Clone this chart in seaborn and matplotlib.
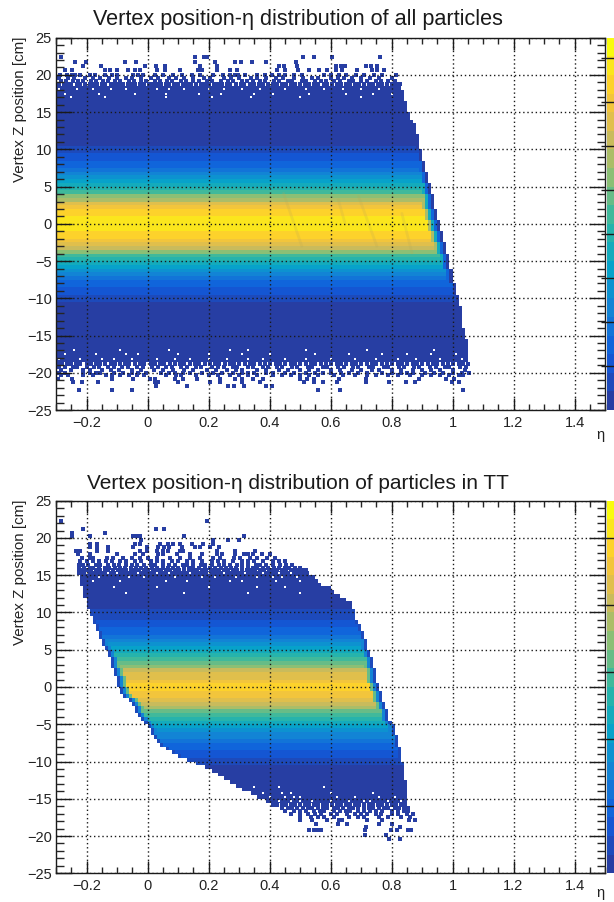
import numpy as np
import matplotlib
matplotlib.use('Agg')
import matplotlib.pyplot as plt
from matplotlib.colors import ListedColormap
from matplotlib.ticker import MultipleLocator
import seaborn as sns

# %% datos

# filas de 0.5 cm, de z = 18.25 a z = -18.25
niveles_all = [0]*16 + [1,1,2,2,3,3,4,5,6,7,8,9,10,12,13,15,16,17,17,18,18,
                        18,18,17,17,16,15,14,12,10,9,8,7,6,5,4,3,3,2,2,1,1] + [0]*16
borde_der_all = [.835,.838,.84,.843,.847,.85,.853,.858,.864,.87,.876,.88,.882,.885,.888,.891,
                 .894,.897,.9,.902,.905,.908,.911,.915,.92,.923,.925,.928,.931,.935,.939,.941,
                 .944,.947,.949,.952,.955,.958,.963,.967,.97,.974,.977,.98,.982,.985,.988,.991,
                 .994,.996,.998,1.001,1.004,1.007,1.01,1.013,1.016,1.019,1.023,1.026,1.028,1.03,
                 1.031,1.033,1.035,1.037,1.04,1.042,1.045,1.047,1.049,1.05,1.05,1.05]

# filas de 0.5 cm, de z = 15.25 a z = -15.25
niveles_tt = [0,0,0,0,0,0,0,0,0,0,1,1,1,2,2,3,3,4,5,6,7,8,9,10,11,12,14,15,15,16,17,
              17,16,16,15,14,13,11,10,9,8,7,6,5,5,4,3,3,2,2,1,1,0,0,0,0,0,0,0,0,0,0]
borde_izq_tt = [-.225,-.222,-.218,-.215,-.212,-.208,-.205,-.202,-.198,-.195,-.191,-.186,-.181,
                -.175,-.17,-.165,-.16,-.155,-.15,-.145,-.14,-.134,-.129,-.124,-.12,-.115,-.11,
                -.107,-.103,-.1,-.097,-.094,-.09,-.075,-.06,-.052,-.044,-.036,-.028,-.018,-.008,
                0,.007,.015,.025,.033,.045,.06,.085,.105,.135,.165,.19,.21,.23,.25,.27,.29,.315,.34,.365,.39]
borde_der_tt = [.53,.545,.56,.575,.597,.615,.633,.652,.668,.672,.675,.678,.684,.69,.696,.703,.708,
                .712,.716,.72,.724,.728,.731,.735,.739,.742,.746,.749,.752,.754,.757,.76,.765,.768,
                .772,.778,.783,.787,.79,.794,.8,.805,.809,.812,.816,.82,.824,.827,.83,.832,.835,.837,
                .839,.841,.843,.845,.846,.847,.848,.849,.85,.85]

# puntos sueltos por encima y por debajo de la banda llena
sueltos_all_z = [18.8,19.2,19.6,20.0,20.6,21.2,21.7,22.4,
                 -18.8,-19.2,-19.6,-20.0,-20.3,-20.8,-21.3,-21.8,-22.3]
sueltos_all_eta = [
 [-.29,-.275,-.262,-.25,-.232,-.22,-.205,-.19,-.178,-.165,-.15,-.138,-.12,-.108,-.095,-.08,-.065,-.052,-.04,-.025,-.012,.005,.018,.03,.045,.06,.072,.088,.1,.115,.13,.142,.16,.175,.188,.2,.218,.23,.245,.26,.272,.29,.305,.318,.335,.35,.365,.378,.395,.41,.425,.44,.455,.47,.482,.5,.515,.53,.545,.56,.578,.59,.605,.62,.635,.65,.665,.68,.695,.71,.725,.74,.755,.77,.785,.8,.815,.828],
 [-.285,-.268,-.245,-.228,-.21,-.185,-.17,-.145,-.13,-.105,-.09,-.06,-.045,-.02,-.005,.025,.04,.065,.08,.11,.125,.15,.17,.195,.212,.24,.265,.28,.31,.325,.345,.37,.385,.415,.43,.46,.475,.505,.52,.55,.57,.585,.61,.63,.66,.675,.7,.72,.75,.765,.79,.81],
 [-.29,-.26,-.24,-.205,-.18,-.155,-.125,-.1,-.07,-.05,-.02,.01,.035,.07,.095,.12,.15,.185,.205,.25,.275,.3,.34,.36,.39,.42,.445,.48,.51,.54,.56,.6,.625,.645,.67,.7,.73,.76,.8],
 [-.287,-.265,-.249,-.238,-.222,-.189,-.172,-.14,-.118,-.101,-.047,-.03,-.014,.025,.052,.085,.112,.145,.172,.216,.249,.271,.287,.298,.32,.358,.386,.408,.43,.451,.479,.506,.578,.6,.628,.65,.683,.71,.742,.769,.814],
 [-.269,-.247,-.14,-.123,-.101,-.063,-.041,-.025,.03,.057,.107,.167,.178,.227,.271,.293,.424,.451,.495,.529,.562,.59,.617,.639,.688,.737,.753,.775],
 [-.211,-.151,-.008,.027,.057,.172,.229,.43,.446,.49,.617,.633,.647,.718,.734,.753],
 [-.239,-.203,-.073,-.038,.157,.222,.286,.307,.344,.388,.488],
 [-.283,.157,.186,.194,.51,.546,.604,.762],
 [-.295,-.28,-.265,-.25,-.235,-.22,-.2,-.185,-.17,-.155,-.14,-.12,-.105,-.09,-.075,-.06,-.04,-.025,-.01,.01,.025,.04,.055,.075,.09,.105,.12,.14,.155,.17,.19,.205,.22,.235,.255,.27,.285,.3,.32,.335,.35,.37,.385,.4,.42,.435,.45,.47,.485,.5,.52,.535,.55,.57,.585,.6,.62,.635,.65,.67,.685,.7,.72,.735,.75,.77,.785,.8,.82,.835,.85,.87,.885,.9,.92,.935,.95,.97,.985,1.0,1.02,1.035,1.05],
 [-.29,-.27,-.245,-.23,-.2,-.175,-.16,-.13,-.11,-.085,-.065,-.035,-.015,.015,.035,.06,.08,.11,.13,.16,.175,.21,.23,.25,.28,.295,.33,.345,.38,.395,.425,.44,.475,.49,.525,.54,.575,.59,.625,.645,.675,.69,.725,.74,.775,.79,.825,.84,.875,.89,.925,.945,.975,.99,1.025,1.045],
 [-.285,-.25,-.21,-.19,-.15,-.12,-.095,-.05,-.02,.02,.05,.085,.12,.15,.195,.225,.26,.29,.31,.36,.39,.43,.46,.5,.53,.56,.6,.63,.67,.7,.735,.76,.8,.83,.87,.9,.93,.96,1.0,1.04],
 [-.29,-.27,-.21,-.19,-.17,-.155,-.11,-.08,-.05,-.03,-.005,.045,.07,.09,.115,.14,.18,.215,.245,.28,.31,.33,.35,.39,.41,.45,.48,.52,.55,.575,.6,.635,.66,.69,.72,.77,.8,.83,.85,.87,.91,.94,.97,1.0,1.03,1.055],
 [-.285,-.26,-.21,-.18,-.135,-.118,-.09,-.06,-.035,-.01,.06,.095,.11,.16,.2,.232,.27,.3,.33,.36,.41,.44,.47,.5,.53,.56,.61,.64,.68,.72,.75,.79,.82,.86,.9,.93,.96,.99,1.02,1.035],
 [-.293,-.249,-.118,-.047,.008,.025,.09,.118,.161,.238,.287,.309,.347,.38,.501,.524,.546,.628,.718,.891,.978,1.005],
 [-.243,-.216,-.161,.025,.036,.101,.205,.238,.309,.369,.512,.546,.574,.622,.718,.792,.849,.878,.999,1.02],
 [.027,.128,.265,.282,.315,.388,.408],
 [-.225,-.118,-.052,.56,.632,1.036],
]
huecos_all_z = [17.0,17.5,18.1,-17.0,-17.5,-18.1]
huecos_all_eta = [
 [-.25,-.14,.06,.21,.34,.5,.7],
 [-.27,-.16,-.04,.06,.17,.24,.35,.41,.53,.65,.74,.8],
 [-.29,-.23,-.18,-.12,-.07,.03,.07,.12,.2,.25,.31,.37,.45,.52,.58,.64,.7,.76],
 [-.24,-.09,.07,.27,.33,.52,.72,.94],
 [-.27,-.17,-.07,-.03,.1,.2,.31,.4,.55,.66,.77,.85,.93,1.01],
 [-.29,-.22,-.15,-.11,-.05,.03,.09,.14,.2,.26,.33,.38,.45,.52,.6,.68,.75,.82,.88,.96,1.03],
]

sueltos_tt_z = [15.7,16.0,16.4,16.9,17.3,17.8,18.3,18.8,19.2,19.7,20.2,20.6,21.2,22.3,
                -15.8,-16.2,-16.6,-17.0,-17.4,-17.8,-18.4,-18.8,-19.2,-19.8,-20.4]
sueltos_tt_eta = [
 [-.225,-.21,-.198,-.185,-.17,-.155,-.14,-.128,-.112,-.098,-.085,-.07,-.055,-.04,-.028,-.012,.002,.018,.03,.045,.06,.075,.09,.102,.12,.135,.15,.162,.178,.192,.208,.22,.235,.25,.265,.28,.292,.31,.325,.34,.352,.368,.382,.398,.41,.425,.44,.455,.47,.482,.498,.51,.52],
 [-.225,-.208,-.19,-.178,-.16,-.14,-.125,-.105,-.09,-.075,-.055,-.038,-.02,-.005,.015,.032,.05,.068,.082,.1,.12,.135,.15,.17,.19,.205,.22,.24,.258,.275,.29,.31,.33,.345,.36,.38,.395,.415,.43,.45,.465,.485,.5],
 [-.225,-.21,-.195,-.17,-.155,-.13,-.11,-.095,-.07,-.05,-.035,-.01,.01,.025,.05,.07,.09,.115,.13,.15,.175,.19,.21,.235,.25,.27,.295,.31,.33,.355,.37,.39,.41,.435,.455,.475],
 [-.222,-.2,-.18,-.16,-.135,-.115,-.09,-.07,-.04,-.02,.01,.03,.05,.08,.1,.13,.15,.18,.21,.23,.25,.28,.31,.33,.35,.38,.41,.43,.45],
 [-.216,-.189,-.178,-.134,-.112,-.079,-.052,-.025,.003,.03,.074,.107,.14,.172,.216,.238,.282,.304,.337,.358,.391,.418],
 [-.227,-.189,-.101,-.041,-.014,.036,.052,.096,.14,.178,.227,.244,.287,.315,.331,.347,.375,.402],
 [-.233,-.222,-.167,-.129,-.025,-.003,.03,.052,.068,.107,.118,.227,.287,.353],
 [-.189,-.167,-.129,-.047,-.003,.033,.055,.071,.112,.156,.172,.205,.233],
 [-.189,-.167,-.041,-.025,.041,.068,.085,.107,.145,.183,.216],
 [-.022,.216,.265,.299],
 [-.247,-.189,-.047,-.036,-.025,.121,.315],
 [-.247,-.138],
 [-.211,.027,.055],
 [-.283,.194],
 [.41,.425,.44,.455,.47,.485,.5,.515,.53,.545,.56,.575,.59,.605,.62,.635,.65,.665,.68,.695,.71,.725,.74,.755,.77,.785,.8,.815,.83,.845],
 [.44,.46,.475,.49,.51,.525,.54,.56,.575,.59,.61,.625,.64,.66,.675,.69,.71,.725,.74,.76,.775,.79,.81,.825,.84,.855],
 [.451,.48,.5,.52,.545,.565,.58,.61,.63,.65,.665,.69,.71,.73,.75,.77,.8,.82,.84,.855],
 [.47,.5,.525,.55,.57,.6,.62,.655,.68,.7,.72,.75,.765,.8,.82,.85,.869],
 [.5,.535,.56,.58,.61,.66,.69,.71,.76,.79,.83,.86],
 [.5,.54,.59,.628,.639,.72,.77,.858,.877],
 [.553,.626,.653,.76,.8],
 [.718,.828],
 [.531,.545,.559,.57,.712,.797,.819,.855,.863],
 [.712,.783],
 [.792,.828],
]
huecos_tt_z = [12.6,13.4,14.2,14.8,15.25,-13.4,-14.2,-14.8,-15.25]
huecos_tt_eta = [
 [-.07,.12,.33,.5],
 [-.11,.03,.2,.36,.45],
 [-.18,-.09,.06,.13,.27,.31,.42,.5],
 [-.16,-.06,-.01,.09,.18,.22,.29,.36,.41,.44,.49],
 [-.2,-.13,-.1,-.03,.03,.07,.14,.2,.25,.32,.38,.43,.47],
 [.35,.43,.58],
 [.38,.44,.47,.6,.74],
 [.4,.45,.48,.5,.62,.68,.76,.81],
 [.43,.47,.5,.54,.6,.66,.71,.73,.79,.83],
]

# vetas diagonales del panel de arriba
vetas_eta = [[.446,.506],[.692,.752],[.834,.867],[.626,.648]]
vetas_z = [[4.1,-3.0],[3.7,-3.0],[1.4,-3.9],[3.2,0.0]]

ticks_x = [-.2,0,.2,.4,.6,.8,1,1.2,1.4]
etiq_x = ['\u22120.2','0','0.2','0.4','0.6','0.8','1','1.2','1.4']
ticks_y = [-25,-20,-15,-10,-5,0,5,10,15,20,25]
etiq_y = ['\u221225','\u221220','\u221215','\u221210','\u22125','0','5','10','15','20','25']

# marcas de la barra de color (en niveles de paleta)
marcas_cb_all = [2.36,4.72,7.09,9.45,11.8,14.18,16.54,18.9]
marcas_cb_tt = [3.6,7.2,10.8,14.4,18.0]

titulo_all = 'Vertex position-\u03b7 distribution of all particles'
titulo_tt = 'Vertex position-\u03b7 distribution of particles in TT'

# %% estilo

sns.set_theme(style='white')
plt.rcParams['font.family'] = ['Liberation Sans', 'DejaVu Sans']

paradas_bird = [(.153,.243,.64),(.0592,.3599,.8684),(.0780,.5041,.8385),(.0232,.6419,.7914),
                (.1802,.7178,.6425),(.5301,.7492,.4662),(.8186,.7328,.3499),(.9956,.7862,.1968),
                (.9764,.9832,.0539)]
paleta = sns.blend_palette(paradas_bird, 20)
cmap_bird = ListedColormap(paleta)
azul = paleta[0]

bordes_eta = np.linspace(-.3, 1.5, 181)
bordes_z = np.linspace(-25, 25, 101)
centros_eta = (bordes_eta[:-1] + bordes_eta[1:]) / 2


def armar_celdas(z_filas, niveles, izq, der, rim):
    xs, ys, ws = [], [], []
    for z, nivel, a, b in zip(z_filas, niveles, izq, der):
        for eta in centros_eta[(centros_eta >= a) & (centros_eta <= b)]:
            k = min(int((b - eta) / .01), int((eta - a) / .01) if a > -.3 else 99)
            n = min(nivel, rim[k]) if k < len(rim) else nivel
            xs.append(eta)
            ys.append(z)
            ws.append(n + .5)
    return xs, ys, ws


def aplanar(zs, etas):
    x = [e for fila in etas for e in fila]
    y = [z for z, fila in zip(zs, etas) for e in fila]
    return x, y


def panel(y_arriba, y_abajo, celdas, sueltos, huecos, marcas_cb, titulo, y_titulo, tam_titulo, y_eta, vetas=None):
    W, H = 614., 902.
    ax = fig.add_axes([56/W, 1 - y_abajo/H, (605-56)/W, (y_abajo-y_arriba)/H])
    xs, ys, ws = celdas
    sns.histplot(x=xs, y=ys, weights=ws, bins=[bordes_eta, bordes_z], cmap=cmap_bird,
                 vmin=0, vmax=20, ax=ax, cbar=False)
    if vetas is not None:
        for e, z in zip(*vetas):
            sns.lineplot(x=e, y=z, color=(.72,.66,.33), alpha=.2, lw=2, ax=ax, legend=False,
                         estimator=None, sort=False)
    x, y = aplanar(*sueltos)
    sns.scatterplot(x=x, y=y, marker='s', s=6.5, color=azul, linewidth=0, ax=ax, legend=False)
    x, y = aplanar(*huecos)
    sns.scatterplot(x=x, y=y, marker='s', s=2.5, color='white', linewidth=0, ax=ax, legend=False)

    ax.set_xlim(-.3, 1.5)
    ax.set_ylim(-25, 25)
    ax.set_xticks(ticks_x, etiq_x)
    ax.set_yticks(ticks_y, etiq_y)
    ax.xaxis.set_minor_locator(MultipleLocator(.05))
    ax.yaxis.set_minor_locator(MultipleLocator(1))
    ax.set_xlabel('')
    ax.set_ylabel('')
    ax.set_axisbelow(False)
    ax.grid(True, which='major', color='k', ls=(0, (1, 2)), lw=1)
    ax.tick_params(axis='x', which='major', direction='in', top=True, bottom=True, length=8.3, width=1, pad=4, labelsize=10.5, colors='k', labelcolor='#222222')
    ax.tick_params(axis='x', which='minor', direction='in', top=True, bottom=True, length=4.2, width=1)
    ax.tick_params(axis='y', which='major', direction='in', left=True, right=True, length=11.5, width=1, pad=3, labelsize=10.5, colors='k', labelcolor='#222222')
    ax.tick_params(axis='y', which='minor', direction='in', left=True, right=True, length=5.8, width=1)
    for s in ax.spines.values():
        s.set_visible(True)
        s.set_color('k')
        s.set_linewidth(1)

    # barra de color
    cax = fig.add_axes([607/W, 1 - y_abajo/H, 8/W, (y_abajo-y_arriba)/H])
    sns.heatmap(np.arange(20).reshape(-1, 1), cmap=cmap_bird, vmin=0, vmax=20, cbar=False,
                xticklabels=False, yticklabels=False, ax=cax)
    cax.set_ylim(0, 20)
    cax.hlines(marcas_cb, -.7, 1, transform=cax.get_yaxis_transform(), clip_on=False, color='k', lw=1)

    fig.text(298/W, 1 - y_titulo/H, titulo, ha='center', va='center', fontsize=tam_titulo, color='k')
    fig.text(20/W, 1 - (y_arriba-1)/H, 'Vertex Z position [cm]', rotation=90, ha='center', va='top', fontsize=10.9, color='#222222')
    fig.text(600/W, 1 - y_eta/H, '\u03b7', ha='center', va='center', fontsize=10.5, color='#222222')


# %% figura

fig = plt.figure(figsize=(6.14, 9.02), dpi=100)

z_all = [18.25 - .5*i for i in range(74)]
z_tt = [15.25 - .5*i for i in range(62)]
izq_all = [-.3]*74

celdas_all = armar_celdas(z_all, niveles_all, izq_all, borde_der_all, [0, 3, 8, 13])
celdas_tt = armar_celdas(z_tt, niveles_tt, borde_izq_tt, borde_der_tt, [1, 5, 11])

panel(37.7, 410, celdas_all, (sueltos_all_z, sueltos_all_eta), (huecos_all_z, huecos_all_eta),
      marcas_cb_all, titulo_all, 20, 15.6, 435, vetas=(vetas_eta, vetas_z))
panel(500.7, 873.3, celdas_tt, (sueltos_tt_z, sueltos_tt_eta), (huecos_tt_z, huecos_tt_eta),
      marcas_cb_tt, titulo_tt, 483, 15, 893)

fig.savefig('out.png', dpi=100)
